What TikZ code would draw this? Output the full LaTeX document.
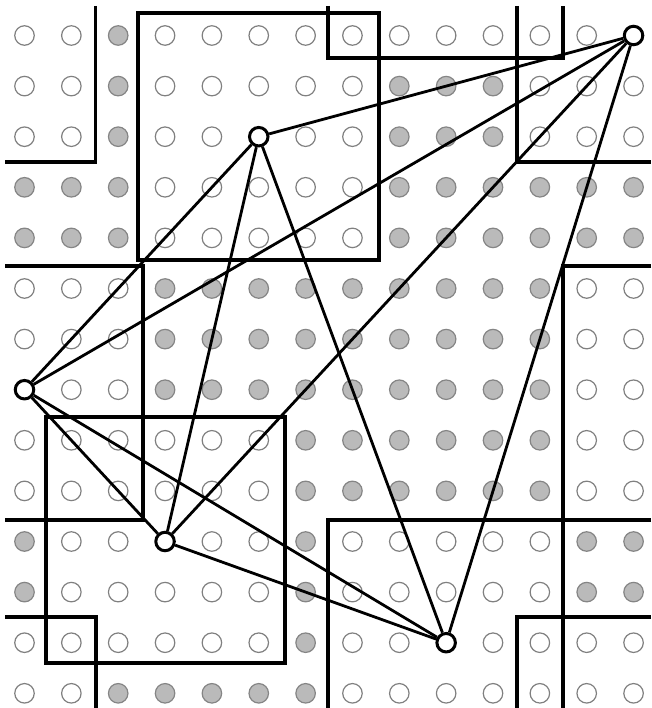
\documentclass[tikz,border=0pt]{standalone}
\usetikzlibrary{calc}
\tikzset{
  cello/.style={circle,inner sep=0pt,minimum size=19.5pt,draw=black!50,line width=1.2pt,fill=white},
  cellg/.style={circle,inner sep=0pt,minimum size=19.5pt,draw=black!48,line width=1.2pt,fill=black!27},
  vert/.style={circle,inner sep=0pt,minimum size=18.5pt,draw=black,line width=3pt,fill=white},
  edge/.style={line width=2.8pt,black},
  bnd/.style={line width=3.4pt,black,line join=miter}
}
\newcommand{\mkcell}[3]{%
  \if#3g\node[cellg] (c-#1-#2) at ({24.5+46.85*#1},{35.5+50.6*#2}) {};\fi
  \if#3o\node[cello] (c-#1-#2) at ({24.5+46.85*#1},{35.5+50.6*#2}) {};\fi}
\begin{document}
\begin{tikzpicture}[x=1pt,y=-1pt]
\useasboundingbox (0,0) rectangle (651,708);
\fill[white] (0,0) rectangle (651,708);
% grid of cells
\foreach[count=\i from 0] \s in {o,o,g,o,o,o,o,o,o,o,o,o,o,x} {\mkcell{\i}{0}{\s}}
\foreach[count=\i from 0] \s in {o,o,g,o,o,o,o,o,g,g,g,o,o,o} {\mkcell{\i}{1}{\s}}
\foreach[count=\i from 0] \s in {o,o,g,o,o,x,o,o,g,g,g,o,o,o} {\mkcell{\i}{2}{\s}}
\foreach[count=\i from 0] \s in {g,g,g,o,o,o,o,o,g,g,g,g,g,g} {\mkcell{\i}{3}{\s}}
\foreach[count=\i from 0] \s in {g,g,g,o,o,o,o,o,g,g,g,g,g,g} {\mkcell{\i}{4}{\s}}
\foreach[count=\i from 0] \s in {o,o,o,g,g,g,g,g,g,g,g,g,o,o} {\mkcell{\i}{5}{\s}}
\foreach[count=\i from 0] \s in {o,o,o,g,g,g,g,g,g,g,g,g,o,o} {\mkcell{\i}{6}{\s}}
\foreach[count=\i from 0] \s in {x,o,o,g,g,g,g,g,g,g,g,g,o,o} {\mkcell{\i}{7}{\s}}
\foreach[count=\i from 0] \s in {o,o,o,o,o,o,g,g,g,g,g,g,o,o} {\mkcell{\i}{8}{\s}}
\foreach[count=\i from 0] \s in {o,o,o,o,o,o,g,g,g,g,g,g,o,o} {\mkcell{\i}{9}{\s}}
\foreach[count=\i from 0] \s in {g,o,o,x,o,o,g,o,o,o,o,o,g,g} {\mkcell{\i}{10}{\s}}
\foreach[count=\i from 0] \s in {g,o,o,o,o,o,g,o,o,o,o,o,g,g} {\mkcell{\i}{11}{\s}}
\foreach[count=\i from 0] \s in {o,o,o,o,o,o,g,o,o,x,o,o,o,o} {\mkcell{\i}{12}{\s}}
\foreach[count=\i from 0] \s in {o,o,g,g,g,g,g,o,o,o,o,o,o,o} {\mkcell{\i}{13}{\s}}
% cluster boundaries
\draw[bnd] (95.5,6) -- (95.5,162) -- (5,162);
\draw[bnd] (138,13) rectangle (379,260);
\draw[bnd] (328,6) -- (328,58) -- (563,58) -- (563,6);
\draw[bnd] (517,6) -- (517,162) -- (651,162);
\draw[bnd] (5,266) -- (143,266) -- (143,520) -- (5,520);
\draw[bnd] (651,266) -- (563,266) -- (563,708);
\draw[bnd] (46,417) rectangle (285,663);
\draw[bnd] (5,617) -- (96,617) -- (96,708);
\draw[bnd] (651,520) -- (328,520) -- (328,708);
\draw[bnd] (651,617) -- (517,617) -- (517,708);
% vertices
\node[vert] (A) at ({24.5+46.85*13},{35.5+50.6*0}) {};
\node[vert] (B) at ({24.5+46.85*5},{35.5+50.6*2}) {};
\node[vert] (C) at ({24.5+46.85*0},{35.5+50.6*7}) {};
\node[vert] (D) at ({24.5+46.85*3},{35.5+50.6*10}) {};
\node[vert] (E) at ({24.5+46.85*9},{35.5+50.6*12}) {};
% edges
\draw[edge] (A) -- (B);
\draw[edge] (A) -- (C);
\draw[edge] (A) -- (D);
\draw[edge] (A) -- (E);
\draw[edge] (B) -- (C);
\draw[edge] (B) -- (D);
\draw[edge] (B) -- (E);
\draw[edge] (C) -- (D);
\draw[edge] (C) -- (E);
\draw[edge] (D) -- (E);
\end{tikzpicture}
\end{document}
